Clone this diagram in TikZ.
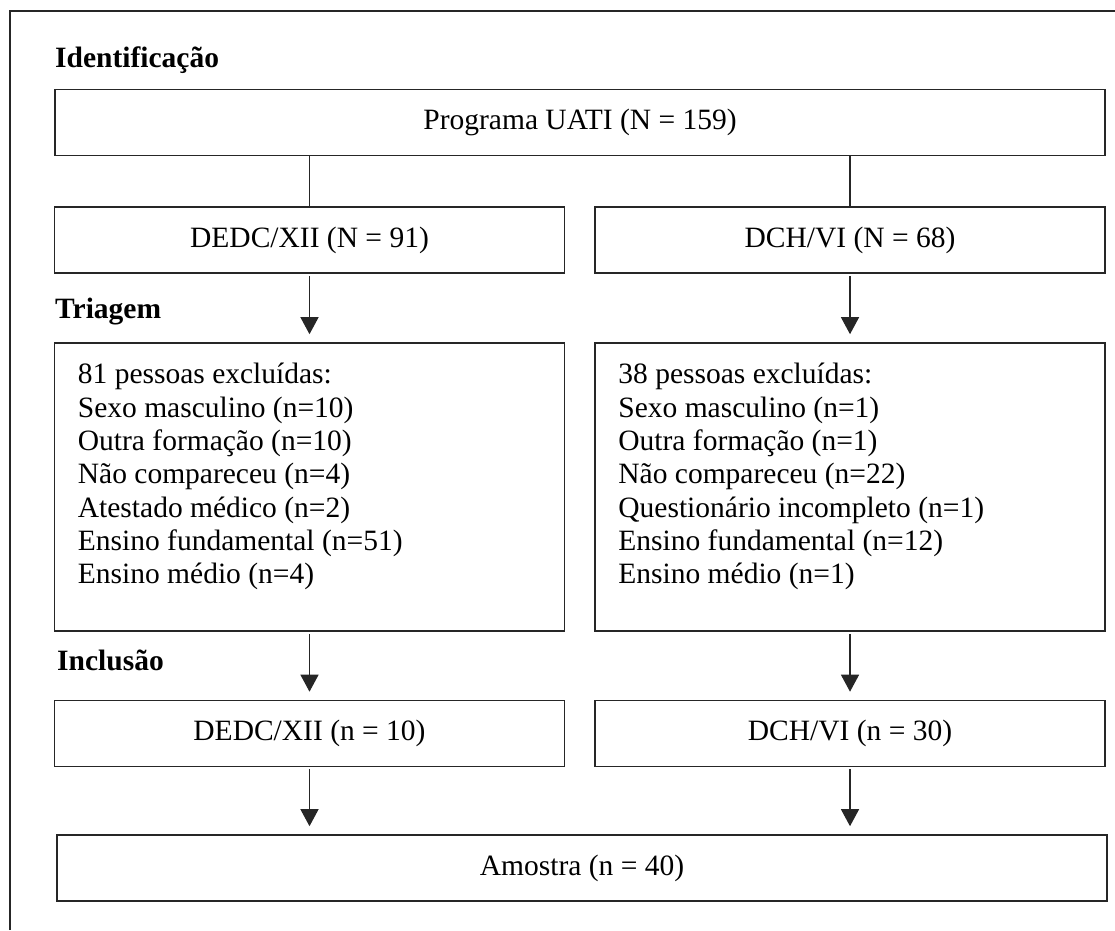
\documentclass[tikz,border=0pt]{standalone}
\usepackage{fontspec}
\setmainfont{Liberation Serif}
\usetikzlibrary{positioning, arrows.meta}
\newcommand{\flowfont}{\fontsize{29.5}{33.3}\selectfont}

\begin{document}
\begin{tikzpicture}[x=1pt, y=-1pt,
    every node/.style={font=\flowfont},
    box/.style={rectangle, draw=black!85, line width=1.6pt, minimum height=66pt, align=center, inner sep=0pt},
    wide/.style={box, minimum width=1050pt},
    half/.style={box, minimum width=510pt},
    stage/.style={anchor=base west, inner sep=0pt, font=\flowfont\bfseries},
    list/.style={align=left, inner sep=0pt},
    link/.style={line width=1.3pt, draw=black!85},
    arr/.style={link, -{Triangle[length=17pt, width=18pt]}, shorten <=2pt, shorten >=8pt}]
    \useasboundingbox (0,0) rectangle (1115,930);

    % Outer frame
    \draw[link] (10,930) -- (10,11) -- (1115,11);

    % Stage titles
    \node[stage] (ident) at (55,67) {Identificação};
    \node[stage] (triag) at (55,318) {Triagem};
    \node[stage] (incl) at (57,670) {Inclusão};

    % Boxes
    \node[wide] (prog) at (580,122.5) {Programa UATI (N = 159)};
    \node[half] (dedc) at (309.5,240) {DEDC/XII (N = 91)};
    \node[half] (dch) at (850,240) {DCH/VI (N = 68)};
    \node[half, minimum height=288pt] (excl1) at (309.5,487) {};
    \node[half, minimum height=288pt] (excl2) at (850,487) {};
    \node[half] (inc1) at (309.5,733.5) {DEDC/XII (n = 10)};
    \node[half] (inc2) at (850,733.5) {DCH/VI (n = 30)};
    \node[wide] (amostra) at (582,868) {Amostra (n = 40)};

    % Exclusion lists
    \node[list, below right=21pt and 24pt of excl1.north west] (list1) {81 pessoas excluídas:\\Sexo masculino (n=10)\\Outra formação (n=10)\\Não compareceu (n=4)\\Atestado médico (n=2)\\Ensino fundamental (n=51)\\Ensino médio (n=4)};
    \node[list, below right=21pt and 24pt of excl2.north west] (list2) {38 pessoas excluídas:\\Sexo masculino (n=1)\\Outra formação (n=1)\\Não compareceu (n=22)\\Questionário incompleto (n=1)\\Ensino fundamental (n=12)\\Ensino médio (n=1)};

    % Connections
    \draw[link] (prog.south -| dedc.north) -- (dedc.north);
    \draw[link] (prog.south -| dch.north) -- (dch.north);
    \foreach \a/\b in {dedc/excl1, dch/excl2, excl1/inc1, excl2/inc2}
        \draw[arr] (\a.south) -- (\b.north);
    \draw[arr] (inc1.south) -- (inc1.south |- amostra.north);
    \draw[arr] (inc2.south) -- (inc2.south |- amostra.north);
\end{tikzpicture}
\end{document}
